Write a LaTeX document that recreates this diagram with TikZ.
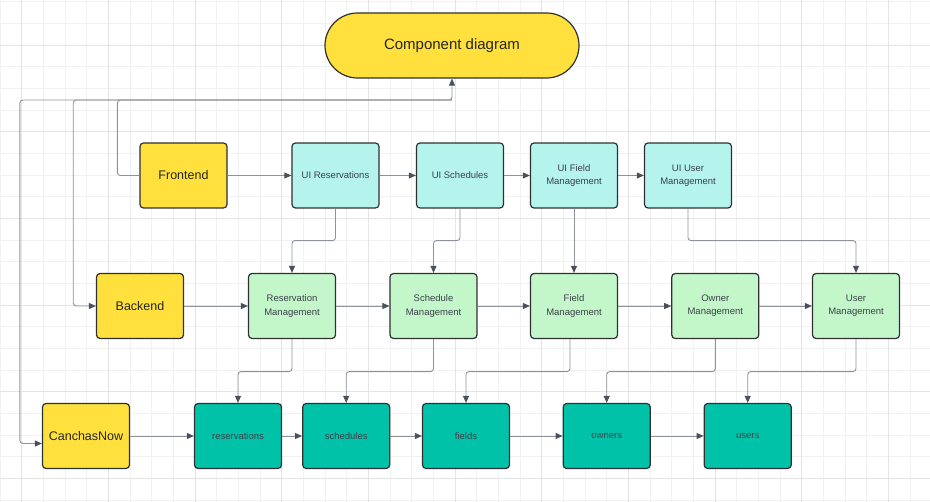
\documentclass[tikz,border=0pt]{standalone}
\usepackage{fontspec}
\setmainfont{Liberation Sans}
\usetikzlibrary{arrows.meta}
\definecolor{gridminor}{HTML}{F1F1F2}
\definecolor{gridmajor}{HTML}{E4E4E6}
\definecolor{boxline}{HTML}{2E3033}
\definecolor{linkgray}{HTML}{8E929A}
\definecolor{tipgray}{HTML}{4A505C}
\definecolor{textgray}{HTML}{3B4149}
\definecolor{sunyellow}{HTML}{FFE03D}
\definecolor{uicyan}{HTML}{B5F4EC}
\definecolor{mgmtgreen}{HTML}{C3F7C9}
\definecolor{dbteal}{HTML}{00C2A8}
\begin{document}
\begin{tikzpicture}[x=1pt, y=-1pt,
	box/.style = {draw = boxline, line width = 1.2pt, rounded corners = 3.5pt, minimum width = 87pt, minimum height = 65pt, inner sep = 0pt, align = center, text = textgray, font = \fontsize{9.5}{13.3}\selectfont},
	yellowbox/.style = {box, fill = sunyellow, text = black!85, font = \fontsize{12.5}{15}\selectfont},
	uibox/.style = {box, fill = uicyan},
	mgmtbox/.style = {box, fill = mgmtgreen},
	dbbox/.style = {box, fill = dbteal},
	link/.style = {draw = linkgray, line width = 0.9pt, rounded corners = 3pt, -{Triangle[length = 7pt, width = 6pt, color = tipgray]}}]
	\useasboundingbox (0, 0) rectangle (930, 502);
	% grid
	\foreach \x in {0, 1, ..., 42}{
		\draw [gridminor, line width = 0.8pt] (0.03 + 21.67*\x, 0) -- (0.03 + 21.67*\x, 502);}
	\foreach \y in {0, 1, ..., 23}{
		\draw [gridminor, line width = 0.8pt] (0, 1.7 + 21.67*\y) -- (930, 1.7 + 21.67*\y);}
	\foreach \x in {0, 1, ..., 10}{
		\draw [gridmajor, line width = 0.9pt] (21.7 + 86.67*\x, 0) -- (21.7 + 86.67*\x, 502);}
	\foreach \y in {0, 1, ..., 5}{
		\draw [gridmajor, line width = 0.9pt] (0, 45 + 86.67*\y) -- (930, 45 + 86.67*\y);}
	% title
	\node [draw = boxline, line width = 1.2pt, fill = sunyellow, rounded corners = 32.5pt, minimum width = 254pt, minimum height = 65pt, font = \fontsize{15}{18}\selectfont, text = black!85] (title) at (452, 45.5) {Component diagram};
	% frontend row
	\node [yellowbox] (frontend) at (183.5, 175.5) {Frontend};
	\node [uibox] (uires) at (335.5, 175.5) {UI Reservations};
	\node [uibox] (uisched) at (460, 175.5) {UI Schedules};
	\node [uibox] (uifield) at (574, 175.5) {UI Field\\Management};
	\node [uibox] (uiuser) at (688, 175.5) {UI User\\Management};
	% backend row
	\node [yellowbox] (backend) at (140, 306) {Backend};
	\node [mgmtbox] (resmgmt) at (292, 306) {Reservation\\Management};
	\node [mgmtbox] (schedmgmt) at (433.5, 306) {Schedule\\Management};
	\node [mgmtbox] (fieldmgmt) at (574, 306) {Field\\Management};
	\node [mgmtbox] (ownermgmt) at (715.3, 306) {Owner\\Management};
	\node [mgmtbox] (usermgmt) at (856, 306) {User\\Management};
	% database row
	\node [yellowbox] (canchas) at (86, 436) {CanchasNow};
	\node [dbbox] (reservations) at (238, 436) {reservations};
	\node [dbbox] (schedules) at (346.2, 436) {schedules};
	\node [dbbox] (fields) at (466, 436) {fields};
	\node [dbbox] (owners) at (606.7, 436) {owners};
	\node [dbbox] (users) at (747.7, 436) {users};
	% links to the title
	\coordinate (bus) at (452, 100);
	\draw [link] (frontend.west) -- ++(-22, 0) |- (bus) -- (title.south);
	\draw [link] (bus) -| ([xshift = -22.7pt]backend.west) -- (backend.west);
	\draw [link] (bus) -| ([xshift = -22pt, yshift = -7.5pt]canchas.west) -- ([yshift = -7.5pt]canchas.west);
	% links along the rows
	\foreach \a/\b in {frontend/uires, uires/uisched, uisched/uifield, uifield/uiuser, backend/resmgmt, resmgmt/schedmgmt, schedmgmt/fieldmgmt, fieldmgmt/ownermgmt, ownermgmt/usermgmt, canchas/reservations, reservations/schedules, schedules/fields, fields/owners, owners/users}{
		\draw [link] (\a.east) -- (\b.west);}
	% links between the rows
	\foreach \a/\b in {uires/resmgmt, uisched/schedmgmt, uiuser/usermgmt}{
		\draw [link] (\a.south) -- ++(0, 32) -| (\b.north);}
	\draw [link] (uifield.south) -- (fieldmgmt.north);
	\foreach \a/\b in {resmgmt/reservations, schedmgmt/schedules, ownermgmt/owners, usermgmt/users}{
		\draw [link] (\a.south) -- ++(0, 32.5) -| (\b.north);}
	\draw [link] ([xshift = -4pt]fieldmgmt.south) -- ++(0, 32.5) -| (fields.north);
\end{tikzpicture}
\end{document}
